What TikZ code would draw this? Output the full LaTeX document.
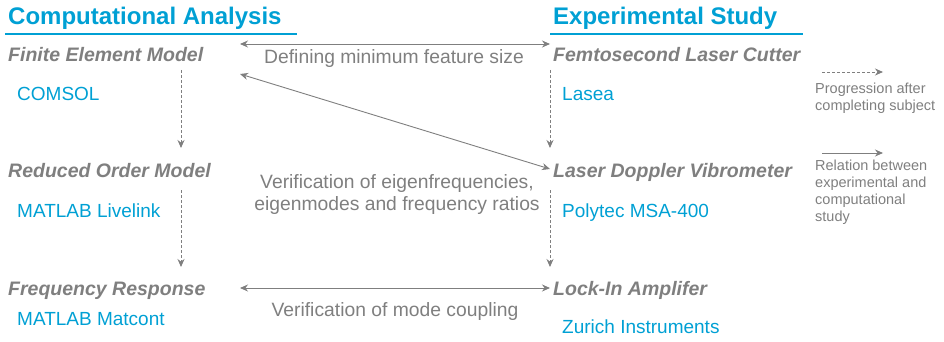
\documentclass[tikz,border=0pt]{standalone}
\usepackage{fontspec}
\setmainfont{Liberation Sans}
\usetikzlibrary{arrows.meta}

\definecolor{accent}{RGB}{0,160,212}
\definecolor{txtgray}{RGB}{127,127,127}

\begin{document}
\begin{tikzpicture}[
		x=1pt, y=-1pt,
		>={Stealth[length=8pt,width=7pt]},
		every node/.style={inner sep=0pt, anchor=base west},
		heading/.style={font=\fontsize{24}{28}\selectfont\bfseries, text=accent},
		method/.style={font=\fontsize{19.5}{23}\selectfont\bfseries\itshape, text=txtgray},
		tool/.style={font=\fontsize{19}{23}\selectfont, text=accent},
		remark/.style={font=\fontsize{19.3}{22}\selectfont, text=txtgray, align=center, anchor=north},
		legend/.style={font=\fontsize{14.5}{17}\selectfont, text=txtgray, align=left, anchor=north west},
		progress/.style={->, densely dashed, draw=txtgray, line width=0.9pt},
		relation/.style={<->, draw=txtgray, line width=0.9pt}
		]
		\useasboundingbox (0,0) rectangle (944,342);
		
		% column headings
		\node[heading] (comp) at (8,25) {Computational Analysis};
		\node[heading] (expt) at (553,25) {Experimental Study};
		\draw[accent, line width=1.3pt] ([shift={(-3,9)}]comp.base west) -- ++(292,0);
		\draw[accent, line width=1.3pt] ([shift={(-3,9)}]expt.base west) -- ++(253,0);
		
		% computational side
		\node[method] (fem) at (8,62) {Finite Element Model};
		\node[tool] (comsol) at (17,101) {COMSOL};
		\node[method] (rom) at (8,177) {Reduced Order Model};
		\node[tool] (livelink) at (17,217) {MATLAB Livelink};
		\node[method] (freq) at (8,295) {Frequency Response};
		\node[tool] (matcont) at (17,325) {MATLAB Matcont};
		
		% experimental side
		\node[method] (laser) at (553,62) {Femtosecond Laser Cutter};
		\node[tool] (lasea) at (562,101) {Lasea};
		\node[method] (ldv) at (553,177) {Laser Doppler Vibrometer};
		\node[tool] (polytec) at (562,217) {Polytec MSA-400};
		\node[method] (lockin) at (553,295) {Lock-In Amplifer};
		\node[tool] (zurich) at (562,333) {Zurich Instruments};
		
		% relations in between
		\node[remark] (feat) at (394,49) {Defining minimum feature size};
		\node[remark] (eigen) at (397,174) {Verification of eigenfrequencies,\\eigenmodes and frequency ratios};
		\node[remark] (coupl) at (395,302) {Verification of mode coupling};
		
		% legend
		\node[legend] (lgprog) at (815,83) {Progression after\\completing subject};
		\node[legend] (lgrel) at (815,160) {Relation between\\experimental and\\computational\\study};
		
		% arrow ends
		\coordinate (femout) at (181,70);
		\coordinate (romin) at (181,148);
		\coordinate (romout) at (181,190);
		\coordinate (freqin) at (181,267);
		\coordinate (laserout) at (550,70);
		\coordinate (ldvin) at (550,148);
		\coordinate (ldvout) at (550,190);
		\coordinate (lockinin) at (550,267);
		\coordinate (featl) at (240,44);
		\coordinate (featr) at (550,44);
		\coordinate (diagl) at (240,74);
		\coordinate (diagr) at (550,169);
		\coordinate (coupll) at (240,288);
		\coordinate (couplr) at (550,288);
		\coordinate (lgprogl) at (822,72);
		\coordinate (lgprogr) at (883,72);
		\coordinate (lgrell) at (822,153);
		\coordinate (lgrelr) at (883,153);
		
		\draw[progress] (femout) -- (romin);
		\draw[progress] (romout) -- (freqin);
		\draw[progress] (laserout) -- (ldvin);
		\draw[progress] (ldvout) -- (lockinin);
		
		\draw[relation] (featl) -- (featr);
		\draw[relation] (diagl) -- (diagr);
		\draw[relation] (coupll) -- (couplr);
		
		\draw[progress] (lgprogl) -- (lgprogr);
		\draw[->, draw=txtgray, line width=0.9pt] (lgrell) -- (lgrelr);
	\end{tikzpicture}
\end{document}
